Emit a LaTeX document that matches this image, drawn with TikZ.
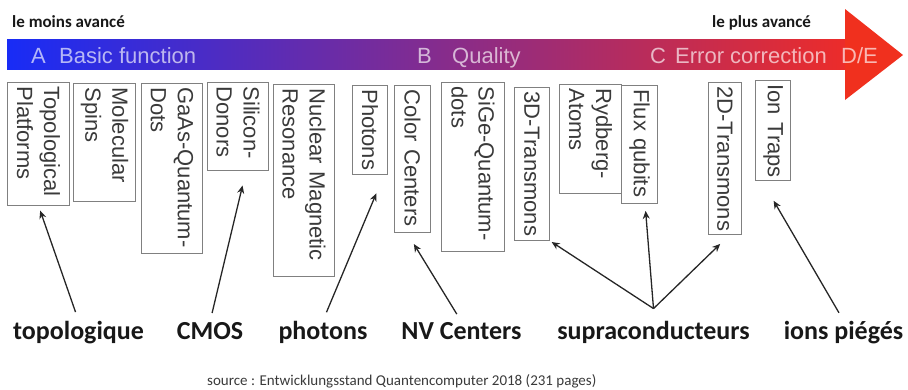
\documentclass[tikz,border=0pt]{standalone}
\usepackage{fontspec}
\setmainfont{Liberation Sans}
\newfontfamily\carlito{Carlito}
\usepackage{xcolor}
\usetikzlibrary{arrows.meta,positioning}
\definecolor{barblue}{RGB}{24,44,246}
\definecolor{barpurple}{RGB}{126,40,172}
\definecolor{barred}{RGB}{236,44,42}
\definecolor{headred}{RGB}{240,48,30}
\definecolor{boxgray}{RGB}{128,128,128}
\definecolor{boxtext}{RGB}{58,58,58}
\definecolor{labtext}{RGB}{24,24,24}

\begin{document}
\begin{tikzpicture}[
    x=1pt, y=-1pt,
    >=Stealth,
    platform/.style={
      rectangle, draw=boxgray, line width=0.9pt,
      rotate=-90, anchor=north west,
      inner xsep=4pt, inner ysep=2pt,
      align=left, text=boxtext,
      font=\fontsize{22}{27}\selectfont
    },
    bartext/.style={
      anchor=base west, inner sep=0pt,
      text=white, text opacity=0.66,
      font=\fontsize{22}{26}\selectfont
    },
    rank/.style={
      anchor=base west, inner sep=0pt, text=labtext,
      font=\carlito\bfseries\fontsize{17}{20}\selectfont
    },
    tech/.style={
      anchor=base, inner sep=0pt, text=labtext,
      font=\carlito\bfseries\fontsize{26}{30}\selectfont
    },
    arr/.style={-{Stealth[length=8pt,width=7pt]}, line width=1.3pt,
      black!85, shorten <=9pt}
  ]
  \useasboundingbox (0,0) rectangle (908,389);

  % Progress arrow
  \shade[left color=barblue, middle color=barpurple, right color=barred]
    (7,39) rectangle (846,69);
  \fill[headred] (845,9) -- (903,55) -- (845,100) -- cycle;

  \node[bartext] (tA) at (31,63) {A};
  \node[bartext] (tbasic) at (59,63) {Basic function};
  \node[bartext] (tB) at (417,63) {B};
  \node[bartext] (tqual) at (452,63) {Quality};
  \node[bartext] (tC) at (650,63) {C};
  \node[bartext] (terr) at (675,63) {Error correction};
  \node[bartext] (tDE) at (841,63) {D/E};

  \node[rank] (lmoins) at (12,27) {le moins avancé};
  \node[rank] (lplus) at (712,27) {le plus avancé};

  % Platforms
  \node[platform, minimum width=123, minimum height=62, text width=115]
    (topo) at (70,82) {Topological\\Platforms};
  \node[platform, minimum width=118, minimum height=62, text width=110]
    (mol) at (136,83) {Molecular\\Spins};
  \node[platform, minimum width=170, minimum height=61, text width=162]
    (gaas) at (203,83) {\mbox{GaAs-Quantum-}\\Dots};
  \node[platform, minimum width=88, minimum height=61, text width=80]
    (sidon) at (269,82) {\mbox{Silicon-}\\Donors};
  \node[platform, minimum width=192, minimum height=61, text width=184]
    (nmr) at (335,84) {\mbox{Nuclear Magnetic}\\Resonance};
  \node[platform, minimum width=89, minimum height=35, text width=81]
    (phot) at (388,85) {\mbox{Photons}};
  \node[platform, minimum width=147, minimum height=36, text width=139]
    (color) at (431,85) {\mbox{Color Centers}};
  \node[platform, minimum width=169, minimum height=63, text width=161]
    (sige) at (505,82) {\mbox{SiGe-Quantum-}\\dots};
  \node[platform, minimum width=153, minimum height=35, text width=145]
    (trans3d) at (550,87) {\mbox{3D-Transmons}};
  \node[platform, minimum width=109, minimum height=62, text width=101]
    (ryd) at (622,84) {\mbox{Rydberg-}\\Atoms};
  \node[platform, minimum width=118, minimum height=36, text width=110]
    (flux) at (658,85) {\mbox{Flux qubits}};
  \node[platform, minimum width=152, minimum height=33, text width=144]
    (trans2d) at (742,82) {\mbox{2D-Transmons}};
  \node[platform, minimum width=100, minimum height=35, text width=92]
    (ion) at (791,80) {\mbox{Ion Traps}};

  % Technologies
  \node[tech] (ltopo) at (78.5,339) {topologique};
  \node[tech] (lcmos) at (210,339) {CMOS};
  \node[tech] (lphot) at (323,339) {photons};
  \node[tech] (lnv) at (461.5,339) {NV Centers};
  \node[tech] (lsupra) at (653.5,339) {supraconducteurs};
  \node[tech] (lion) at (843.5,339) {ions piégés};
  \coordinate (jsupra) at ([yshift=12pt]lsupra.north);

  \draw[arr, shorten >=5pt] (ltopo.north) -- (topo.east);
  \draw[arr, shorten >=15pt] (lcmos.north) -- ([xshift=8pt]sidon.east);
  \draw[arr, shorten >=20pt] (lphot.north) -- ([xshift=14pt]phot.east);
  \draw[arr, shorten >=13pt] (lnv.north) -- ([xshift=-5.5pt]color.east);
  \draw[arr, shorten <=0pt, shorten >=2pt] (jsupra) -- (trans3d.north east);
  \draw[arr, shorten <=0pt, shorten >=7pt] (jsupra) -- ([xshift=5.5pt]flux.east);
  \draw[arr, shorten <=0pt, shorten >=13pt] (jsupra) -- ([xshift=4.5pt]trans2d.east);
  \draw[arr, shorten >=23pt] (lion.north) -- ([xshift=-11pt]ion.east);

  \node[anchor=base west, inner sep=0pt, text=boxtext,
    font=\carlito\fontsize{15}{18}\selectfont] (src) at (207,385)
    {source : Entwicklungsstand Quantencomputer 2018 (231 pages)};
\end{tikzpicture}
\end{document}
